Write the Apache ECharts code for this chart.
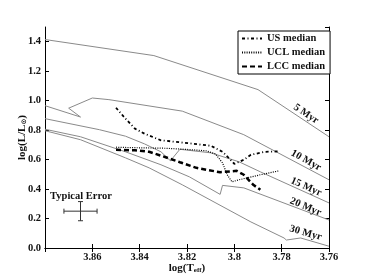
<!DOCTYPE html>
<html><head><meta charset="utf-8">
<script src="https://cdn.jsdelivr.net/npm/echarts@6/dist/echarts.min.js"></script>
<style>html,body{margin:0;padding:0;background:#fff}#c{width:366px;height:276px}</style>
</head><body><div id="c"></div>
<script>
// Isochrones (log Teff, log L/Lsun)
const iso5T  = [3.880, 3.834, 3.790, 3.760];
const iso5L  = [1.415, 1.306, 1.075, 0.755];
const iso10T = [3.880, 3.865, 3.870, 3.860, 3.853, 3.822, 3.796, 3.760];
const iso10L = [0.966, 0.889, 0.949, 1.018, 1.007, 0.929, 0.769, 0.463];
const iso15T = [3.880, 3.857, 3.846, 3.838, 3.831, 3.827, 3.823, 3.810, 3.798, 3.789, 3.760];
const iso15L = [0.878, 0.803, 0.759, 0.707, 0.653, 0.592, 0.670, 0.646, 0.585, 0.517, 0.306];
const iso20T = [3.880, 3.865, 3.846, 3.831, 3.819, 3.806, 3.805, 3.796, 3.760];
const iso20L = [0.806, 0.755, 0.653, 0.565, 0.483, 0.364, 0.425, 0.408, 0.190];
const iso30T = [3.880, 3.865, 3.846, 3.836, 3.822, 3.793, 3.779, 3.778, 3.772, 3.760];
const iso30L = [0.796, 0.735, 0.612, 0.544, 0.429, 0.177, 0.068, 0.054, 0.068, 0.012];
const isoNames = ['5 Myr', '10 Myr', '15 Myr', '20 Myr', '30 Myr'];

// Medians
const usT  = [3.850, 3.846, 3.842, 3.838, 3.831, 3.821, 3.810, 3.805, 3.802, 3.800, 3.796, 3.793, 3.787, 3.781];
const usL  = [0.952, 0.878, 0.810, 0.776, 0.731, 0.714, 0.694, 0.653, 0.605, 0.571, 0.599, 0.633, 0.653, 0.656];
const uclT = [3.850, 3.840, 3.829, 3.821, 3.812, 3.808, 3.805, 3.803, 3.801, 3.798, 3.789, 3.781];
const uclL = [0.684, 0.680, 0.677, 0.670, 0.660, 0.639, 0.578, 0.497, 0.449, 0.463, 0.497, 0.524];
const lccT = [3.850, 3.842, 3.836, 3.829, 3.823, 3.816, 3.806, 3.799, 3.796, 3.792, 3.789];
const lccL = [0.667, 0.663, 0.653, 0.616, 0.582, 0.544, 0.514, 0.524, 0.497, 0.429, 0.395];
const medianNames = ['US median', 'UCL median', 'LCC median'];

// Typical error bar
const errCenterT = 3.865, errCenterL = 0.250, errT = 0.007, errL = 0.065;

// Tick labels
const xTickValues = [3.86, 3.84, 3.82, 3.80, 3.78, 3.76];
const xTickLabels = ['3.86', '3.84', '3.82', '3.8', '3.78', '3.76'];
const yTickValues = [0.0, 0.2, 0.4, 0.6, 0.8, 1.0, 1.2, 1.4];
const yTickLabels = ['0.0', '0.2', '0.4', '0.6', '0.8', '1.0', '1.2', '1.4'];

// Annotation anchors (data coords) and tilt
const noteText  = ['5 Myr', '10 Myr', '15 Myr', '20 Myr', '30 Myr', 'Typical Error'];
const noteT     = [3.7697, 3.7697, 3.7697, 3.7699, 3.7699, 3.8648];
const noteL     = [0.910, 0.595, 0.415, 0.279, 0.102, 0.354];
const noteAngle = [-34, -29, -24, -23, -16, 0];

const zip = (a, b) => a.map((v, i) => [v, b[i]]);
const FONT = 'Liberation Serif';
const GRAY = '#8a8a8a';

const isoT = [iso5T, iso10T, iso15T, iso20T, iso30T];
const isoL = [iso5L, iso10L, iso15L, iso20L, iso30L];

const series = [];
isoNames.forEach((n, i) => {
  series.push({
    type: 'line', name: n, data: zip(isoT[i], isoL[i]), symbol: 'none',
    lineStyle: { color: GRAY, width: 1 }, silent: true, z: 2
  });
});
const medStyles = [
  { color: '#000', width: 1.8, type: [3, 2.5, 1, 2.5] },
  { color: '#000', width: 1.2, type: [1, 1.3] },
  { color: '#000', width: 2.5, type: [5, 3] }
];
[zip(usT, usL), zip(uclT, uclL), zip(lccT, lccL)].forEach((d, i) => {
  series.push({
    type: 'line', name: medianNames[i], data: d, symbol: 'none',
    lineStyle: medStyles[i], itemStyle: { color: '#000' }, silent: true, z: 3
  });
});
series.push({
  type: 'custom', name: 'err', data: [[errCenterT, errCenterL, errT, errL]],
  clip: false, silent: true, z: 4,
  renderItem: function (params, api) {
    const x = api.value(0), y = api.value(1), dx = api.value(2), dy = api.value(3);
    const c = api.coord([x, y]);
    const l = api.coord([x + dx, y]);
    const r = api.coord([x - dx, y]);
    const t = api.coord([x, y + dy]);
    const b = api.coord([x, y - dy]);
    const cap = 2.5;
    const st = { stroke: '#333', lineWidth: 1 };
    const L = (x1, y1, x2, y2) => ({ type: 'line', shape: { x1, y1, x2, y2 }, style: st });
    return { type: 'group', children: [
      L(l[0], c[1], r[0], c[1]), L(c[0], t[1], c[0], b[1]),
      L(l[0], c[1] - cap, l[0], c[1] + cap), L(r[0], c[1] - cap, r[0], c[1] + cap),
      L(c[0] - cap, t[1], c[0] + cap, t[1]), L(c[0] - cap, b[1], c[0] + cap, b[1])
    ]};
  }
});
series.push({
  type: 'custom', name: 'notes', data: noteText.map((s, i) => [noteT[i], noteL[i], noteAngle[i], i]),
  clip: false, silent: true, z: 5,
  renderItem: function (params, api) {
    const p = api.coord([api.value(0), api.value(1)]);
    const idx = api.value(3);
    return {
      type: 'text', x: p[0], y: p[1], rotation: api.value(2) * Math.PI / 180,
      style: {
        text: noteText[idx], x: 0, y: 0, align: 'center', verticalAlign: 'middle',
        font: 'bold 10.5px "' + FONT + '"', fill: '#111'
      }
    };
  }
});

const fmtX = v => { const k = xTickValues.findIndex(t => Math.abs(t - v) < 1e-6); return k >= 0 ? xTickLabels[k] : ''; };
const fmtY = v => { const k = yTickValues.findIndex(t => Math.abs(t - v) < 1e-6); return k >= 0 ? yTickLabels[k] : ''; };

const axisCommon = {
  axisLine: { show: true, lineStyle: { color: '#000', width: 1 } },
  axisTick: { show: true, inside: true, length: 4, lineStyle: { color: '#000' } },
  splitLine: { show: false }
};

const chart = echarts.init(document.getElementById('c'), null, { renderer: 'canvas' });
chart.setOption({
  animation: false,
  backgroundColor: '#fff',
  grid: { left: 45, right: 37, top: 27, bottom: 28, containLabel: false, outerBoundsMode: 'none' },
  legend: {
    data: medianNames, orient: 'vertical', left: 238, top: 31,
    itemWidth: 20, itemHeight: 10, itemGap: 3, padding: [2, 5, 2, 3],
    borderColor: '#000', borderWidth: 1, backgroundColor: '#fff',
    itemStyle: { opacity: 0 },
    textStyle: { fontFamily: FONT, fontWeight: 'bold', fontSize: 10.5, color: '#111' },
    selectedMode: false
  },
  xAxis: [
    Object.assign({
      type: 'value', min: 3.76, max: 3.88, interval: 0.02, inverse: true,
      name: 'log(T{sub|eff})', nameLocation: 'middle', nameGap: 14, nameMoveOverlap: false,
      nameTextStyle: { fontFamily: FONT, fontWeight: 'bold', fontSize: 11, color: '#111', lineHeight: 12,
        rich: { sub: { fontFamily: FONT, fontWeight: 'bold', fontSize: 7, lineHeight: 12, verticalAlign: 'bottom' } } },
      axisLabel: { formatter: fmtX, fontFamily: FONT, fontWeight: 'bold', fontSize: 10.5, color: '#111', margin: 4, showMaxLabel: false }
    }, axisCommon),
    Object.assign({
      type: 'value', min: 3.76, max: 3.88, interval: 0.02, inverse: true, position: 'top',
      axisLabel: { show: false }
    }, axisCommon)
  ],
  yAxis: [
    Object.assign({
      type: 'value', min: 0, max: 1.5, interval: 0.2,
      name: 'log(L/L{sub|⊙})', nameLocation: 'middle', nameGap: 17, nameRotate: 90, nameMoveOverlap: false,
      nameTextStyle: { fontFamily: FONT, fontWeight: 'bold', fontSize: 11, color: '#111', lineHeight: 12,
        rich: { sub: { fontFamily: 'DejaVu Sans', fontSize: 7, lineHeight: 12, verticalAlign: 'bottom' } } },
      axisLabel: { formatter: fmtY, fontFamily: FONT, fontWeight: 'bold', fontSize: 10.5, color: '#111', margin: 4, showMaxLabel: false }
    }, axisCommon),
    Object.assign({
      type: 'value', min: 0, max: 1.5, interval: 0.2, position: 'right',
      axisLabel: { show: false }
    }, axisCommon)
  ],
  series: series
});
</script></body></html>
